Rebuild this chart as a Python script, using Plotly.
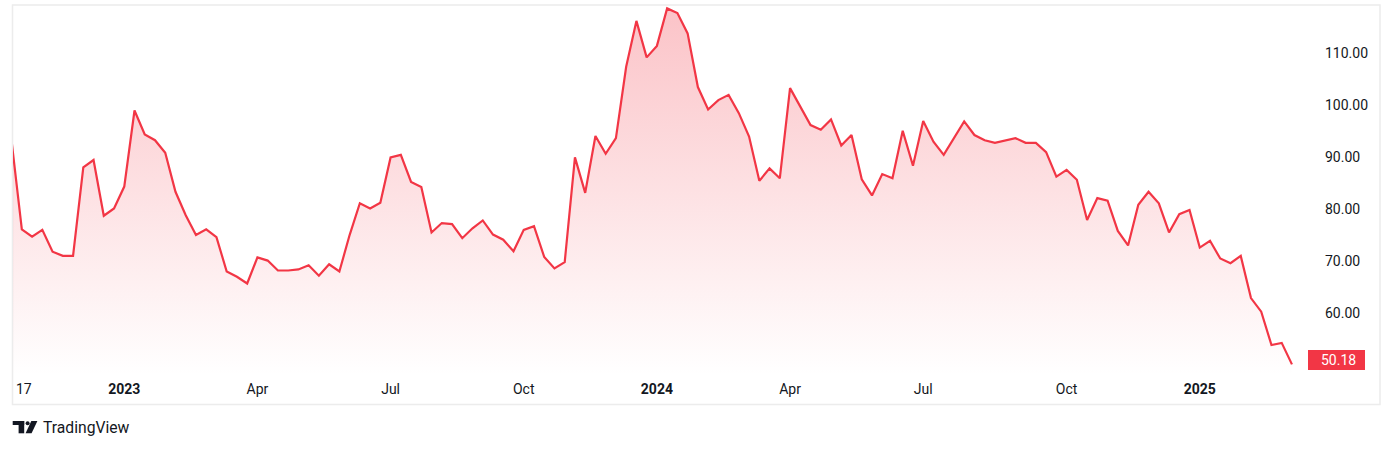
import pandas as pd
import plotly.graph_objects as go

# ---- data (weekly closes) ----
START_DATE = "2022-10-17"
PRICES = [
    93.0, 76.1, 74.7, 76.0, 71.8, 71.0, 71.0, 88.0, 89.4, 78.7,
    80.1, 84.3, 98.9, 94.3, 93.2, 90.8, 83.3, 78.8, 75.0, 76.1,
    74.6, 68.0, 67.0, 65.7, 70.7, 70.1, 68.2, 68.2, 68.4, 69.2,
    67.2, 69.4, 68.0, 75.0, 81.1, 80.1, 81.2, 89.9, 90.4, 85.2,
    84.2, 75.5, 77.3, 77.1, 74.4, 76.3, 77.8, 75.1, 74.1, 71.9,
    76.0, 76.7, 70.8, 68.6, 69.8, 89.9, 83.1, 94.0, 90.6, 93.6,
    107.3, 116.1, 109.1, 111.3, 118.5, 117.6, 113.7, 103.4, 99.1, 100.9,
    101.9, 98.4, 93.9, 85.4, 87.8, 85.9, 103.2, 99.6, 96.1, 95.2,
    97.2, 92.2, 94.2, 85.7, 82.6, 86.7, 85.9, 95.0, 88.3, 96.9,
    92.9, 90.4, 93.6, 96.8, 94.2, 93.2, 92.7, 93.1, 93.6, 92.7,
    92.7, 90.9, 86.2, 87.5, 85.6, 77.9, 82.1, 81.6, 75.8, 73.0,
    80.8, 83.3, 81.1, 75.5, 79.0, 79.8, 72.6, 73.9, 70.5, 69.6,
    71.0, 62.9, 60.3, 53.9, 54.3, 50.18,
]
TICK_DATES = ["2023-01-02", "2023-04-03", "2023-07-03", "2023-10-02", "2024-01-01",
              "2024-04-01", "2024-07-01", "2024-10-07", "2025-01-06"]
TICK_TEXT = ["<b>2023</b>", "Apr", "Jul", "Oct", "<b>2024</b>", "Apr", "Jul", "Oct", "<b>2025</b>"]
FIRST_LABEL = "17"
PRICE_TICKS = [60, 70, 80, 90, 100, 110]

dates = pd.date_range(START_DATE, periods=len(PRICES), freq="7D")

# ---- layout geometry ----
W, H = 1393, 449
PL, PR, PT, PB = 13, 1312, 6, 375   # plot area in pixels
RED = "#F23645"
TXT = "#131722"
FONT = "Roboto, 'DejaVu Sans', sans-serif"

Y_RANGE = [48.14, 118.96]
X_RANGE = [dates[0] + pd.Timedelta(days=0.96), dates[-1] + pd.Timedelta(days=13.7)]


def px(x):
    return (x - PL) / (PR - PL)


def py(y):
    return (PB - y) / (PB - PT)


fig = go.Figure()
fig.add_trace(go.Scatter(
    x=dates, y=PRICES, mode="lines",
    line=dict(color=RED, width=2.2),
    fill="tozeroy",
    fillgradient=dict(type="vertical",
                      colorscale=[[0, "rgba(242,54,69,0.0)"], [1, "rgba(242,54,69,0.30)"]],
                      start=Y_RANGE[0], stop=Y_RANGE[1]),
    hoverinfo="skip", showlegend=False,
))

shapes = [
    # outer frame
    dict(type="rect", xref="paper", yref="paper",
         x0=px(12.5), x1=px(1380), y0=py(404.5), y1=py(5),
         line=dict(color="#ececec", width=1.5), fillcolor="rgba(0,0,0,0)", layer="below"),
    # last price label box
    dict(type="rect", xref="paper", yref="y", xsizemode="pixel", ysizemode="pixel",
         xanchor=1, yanchor=PRICES[-1], x0=-4, x1=53, y0=-5.6, y1=14.4,
         fillcolor=RED, line=dict(width=0)),
    # TradingView logo (approximation)
    dict(type="rect", xref="paper", yref="paper", x0=px(12.7), x1=px(24.2), y0=py(425), y1=py(421),
         fillcolor=TXT, line=dict(width=0)),
    dict(type="rect", xref="paper", yref="paper", x0=px(18.6), x1=px(24.2), y0=py(433.3), y1=py(421),
         fillcolor=TXT, line=dict(width=0)),
    dict(type="circle", xref="paper", yref="paper", x0=px(25.6), x1=px(29.6), y0=py(425.2), y1=py(421.2),
         fillcolor=TXT, line=dict(width=0)),
    dict(type="path", xref="paper", yref="paper",
         path=f"M {px(31.3)},{py(421)} L {px(37.4)},{py(421)} L {px(31.6)},{py(433.3)} L {px(25.6)},{py(433.3)} Z",
         fillcolor=TXT, line=dict(width=0)),
]

annotations = [
    dict(xref="paper", yref="y", x=1, y=PRICES[-1], xanchor="left", yanchor="middle",
         xshift=7, yshift=4.4, text=f"{PRICES[-1]:.2f}", showarrow=False,
         font=dict(family=FONT, size=14, color="white")),
    dict(xref="paper", yref="paper", x=px(13.5), y=py(388.5), xanchor="left", yanchor="middle",
         text=FIRST_LABEL, showarrow=False,
         font=dict(family=FONT, size=14, color=TXT)),
    dict(xref="paper", yref="paper", x=px(41), y=py(427.5), xanchor="left", yanchor="middle",
         text="TradingView", showarrow=False,
         font=dict(family=FONT, size=15.7, color=TXT)),
]

fig.update_layout(
    width=W, height=H,
    margin=dict(l=PL, r=W - PR, t=PT, b=H - PB, pad=0),
    paper_bgcolor="white", plot_bgcolor="white",
    font=dict(family=FONT, size=14, color=TXT),
    shapes=shapes, annotations=annotations,
    xaxis=dict(range=X_RANGE, showgrid=False, zeroline=False, showline=False,
               tickmode="array", tickvals=pd.to_datetime(TICK_DATES), ticktext=TICK_TEXT,
               ticks="", ticklabelstandoff=4, tickfont=dict(size=14, color=TXT)),
    yaxis=dict(range=Y_RANGE, side="right", showgrid=False, zeroline=False, showline=False,
               tickmode="array", tickvals=PRICE_TICKS, tickformat=".2f",
               ticks="", ticklabelstandoff=12, tickfont=dict(size=14, color=TXT)),
)

fig.write_html("out.html", config={"displayModeBar": False},
               post_script="document.body.style.margin='0px';")
